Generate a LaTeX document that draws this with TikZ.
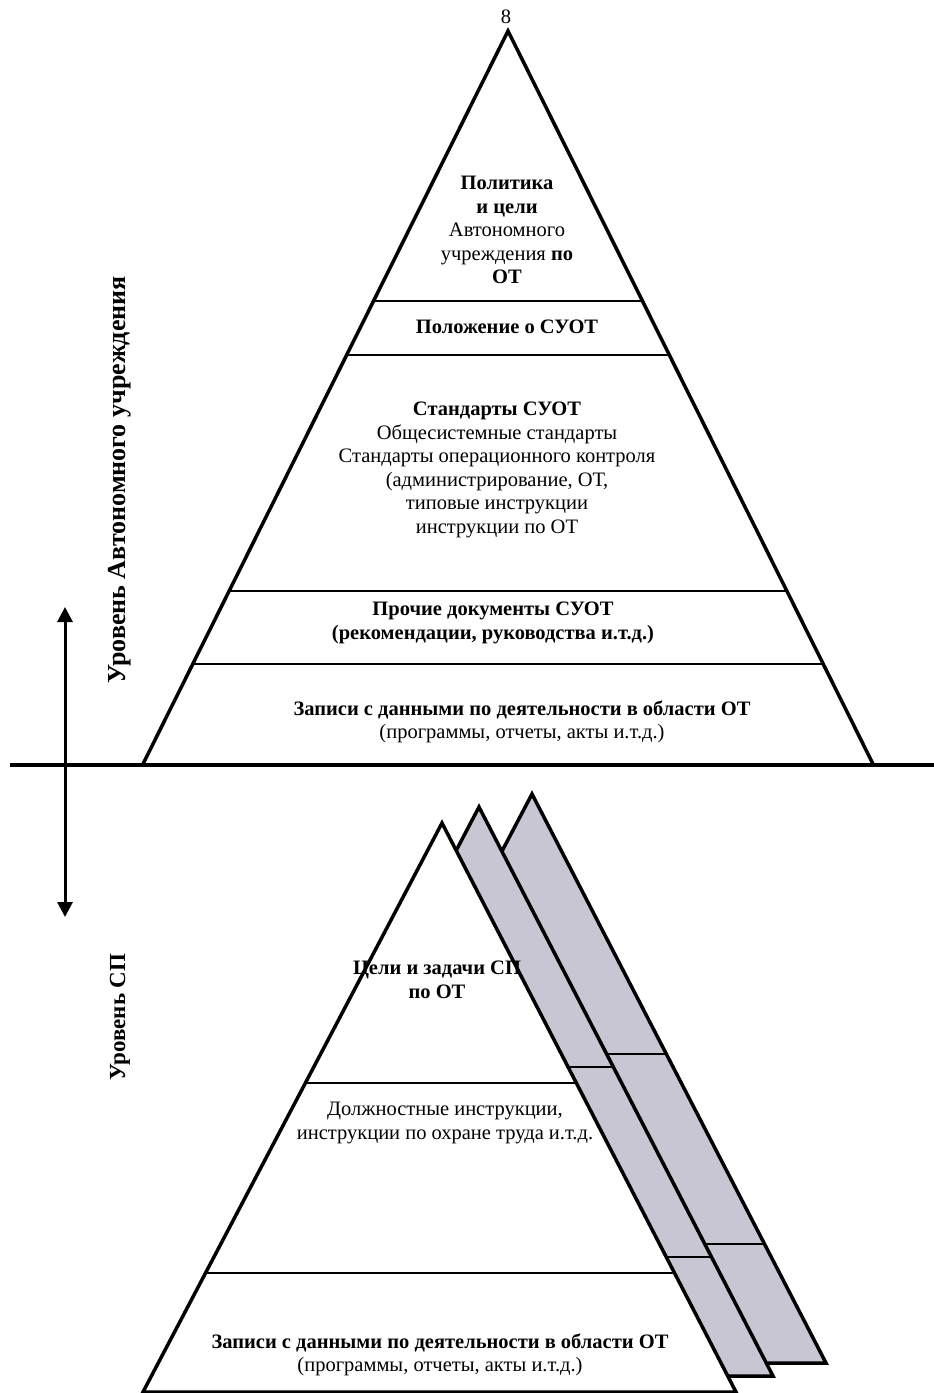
\documentclass[tikz,border=0pt]{standalone}
\usepackage{fontspec}
\setmainfont{Liberation Serif}
\usetikzlibrary{calc,arrows.meta}
\definecolor{bandgray}{RGB}{200,198,210}
\tikzset{
  outline/.style={line width=3.5pt, line join=miter},
  divider/.style={line width=1.5pt},
  lbl/.style={inner sep=0pt, align=center, font=\fontsize{20.5}{23.5}\selectfont},
  vlbl/.style={inner sep=0pt, rotate=90, font=\bfseries},
}
\begin{document}
\begin{tikzpicture}[x=1pt,y=-1pt]
\useasboundingbox (0,0) rectangle (934,1393);
% ---------- top pyramid ----------
\coordinate (A) at (508,31);
\coordinate (L) at (143,764);
\coordinate (R) at (873,764);
\foreach \t [count=\i] in {0.3683,0.4420,0.7640,0.8636}{
  \draw[divider] ($(A)!\t!(L)$) coordinate (dl\i) -- ($(A)!\t!(R)$) coordinate (dr\i);
}
\draw[outline] (L) -- (A) -- (R);
\coordinate (hl) at (10,765);
\coordinate (hr) at (934,765);
\draw[line width=4pt] (hl) -- (hr);
\node[lbl] (pagenum) at (506,17) {8};
\node[lbl] (policy) at (507,230) {\textbf{Политика}\\\textbf{и цели}\\Автономного\\учреждения \textbf{по}\\\textbf{ОТ}};
\node[lbl] (polozh) at (507,327) {\textbf{Положение о СУОТ}};
\node[lbl] (std) at (497,470) {\textbf{Стандарты СУОТ}\\Общесистемные стандарты\\Стандарты операционного контроля\\(администрирование, ОТ,\\типовые инструкции\\инструкции по ОТ};
\node[lbl] (other) at (493,623) {\textbf{Прочие документы СУОТ}\\\textbf{(рекомендации, руководства и.т.д.)}};
\node[lbl] (rec) at (522,722) {\textbf{Записи с данными по деятельности в области ОТ}\\(программы, отчеты, акты и.т.д.)};
% ---------- side labels and arrow ----------
\node[vlbl, font=\fontsize{26}{30}\selectfont\bfseries] (lvl1) at (120,480) {Уровень Автономного учреждения};
\node[vlbl, font=\fontsize{23}{27}\selectfont\bfseries] (lvl2) at (120,1017) {Уровень СП};
\coordinate (at) at (65,607);
\coordinate (ab) at (65,917);
\draw[line width=3pt, {Triangle[length=15pt,width=15pt]}-{Triangle[length=15pt,width=15pt]}] (at) -- (ab);
% ---------- bottom pyramids ----------
\coordinate (B) at (442,823);
\coordinate (BL) at (143,1392);
\coordinate (BR) at (736,1392);
\foreach \dx/\dy/\col/\nm in {90/-29/bandgray/c,37/-16/bandgray/b,0/0/white/a}{
  \coordinate (B\nm) at ($(B)+(\dx,\dy)$);
  \coordinate (BL\nm) at ($(BL)+(\dx,\dy)$);
  \coordinate (BR\nm) at ($(BR)+(\dx,\dy)$);
  \fill[\col] (B\nm) -- (BL\nm) -- (BR\nm) -- cycle;
  \draw[divider] ($(B\nm)!0.457!(BL\nm)$) -- ($(B\nm)!0.457!(BR\nm)$);
  \draw[divider] ($(B\nm)!0.791!(BL\nm)$) -- ($(B\nm)!0.791!(BR\nm)$);
  \draw[outline] (B\nm) -- (BL\nm) -- (BR\nm) -- cycle;
}
\node[lbl] (goals) at (437,980) {\textbf{Цели и задачи СП}\\\textbf{по ОТ}};
\node[lbl] (instr) at (445,1123) {Должностные инструкции,\\инструкции по охране труда и.т.д.};
\node[lbl] (rec2) at (440,1355) {\textbf{Записи с данными по деятельности в области ОТ}\\(программы, отчеты, акты и.т.д.)};
\end{tikzpicture}
\end{document}
